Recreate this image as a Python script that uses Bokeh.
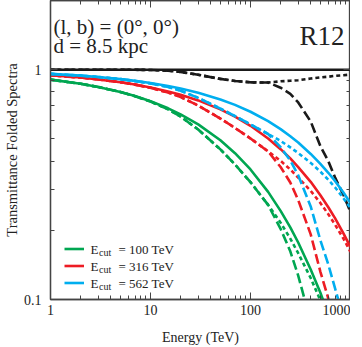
from bokeh.plotting import figure
from bokeh.models import (Range1d, FixedTicker, LogAxis, Legend, LegendItem, Label)
from bokeh.embed import file_html
from bokeh.resources import INLINE

# ---------------- data ----------------
energy = [1, 2, 3, 5, 7, 10, 15, 20, 30, 50, 70, 100, 150, 200, 250, 300, 400, 500, 600, 700, 850, 1000]

trans_flat_e = [1, 1000]
trans_flat = [1.0, 1.0]
trans_dashed = [1.0, 1.0, 1.0, 1.0, 0.999, 0.997, 0.99, 0.978, 0.95, 0.912, 0.893, 0.881, 0.879,
                0.835, 0.785, 0.72, 0.595, 0.465, 0.40, 0.34, 0.285, 0.24]
trans_dotted = [1.0, 1.0, 1.0, 1.0, 0.999, 0.997, 0.99, 0.978, 0.95, 0.912, 0.893, 0.881, 0.879,
                0.89, 0.895, 0.90, 0.915, 0.925, 0.932, 0.94, 0.946, 0.952]

green_solid = [0.905, 0.868, 0.841, 0.800, 0.768, 0.729, 0.679, 0.639, 0.578, 0.493, 0.433, 0.368, 0.294,
               0.243, 0.206, 0.177, 0.135, 0.107, 0.086, 0.071, 0.054, 0.042]
green_dashed = [0.905, 0.868, 0.841, 0.800, 0.767, 0.727, 0.672, 0.625, 0.549, 0.450, 0.387, 0.324, 0.258,
                0.203, 0.162, 0.127, 0.080, 0.050, 0.034, 0.024, 0.015, 0.010]
green_dotted = [0.905, 0.868, 0.841, 0.800, 0.767, 0.727, 0.672, 0.625, 0.549, 0.450, 0.387, 0.324, 0.258,
                0.216, 0.184, 0.159, 0.124, 0.099, 0.080, 0.067, 0.051, 0.040]

red_solid = [0.945, 0.924, 0.907, 0.882, 0.862, 0.837, 0.804, 0.778, 0.735, 0.672, 0.625, 0.570, 0.502,
             0.451, 0.411, 0.377, 0.325, 0.284, 0.252, 0.226, 0.194, 0.169]
red_dashed = [0.945, 0.924, 0.907, 0.882, 0.861, 0.834, 0.796, 0.761, 0.698, 0.613, 0.558, 0.502, 0.441,
              0.377, 0.323, 0.271, 0.192, 0.132, 0.101, 0.077, 0.055, 0.041]
red_dotted = [0.945, 0.924, 0.907, 0.882, 0.861, 0.834, 0.796, 0.761, 0.698, 0.613, 0.558, 0.502, 0.441,
              0.401, 0.368, 0.339, 0.297, 0.263, 0.235, 0.212, 0.184, 0.161]

blue_solid = [0.959, 0.942, 0.930, 0.910, 0.894, 0.875, 0.849, 0.828, 0.794, 0.742, 0.703, 0.656, 0.597,
              0.551, 0.513, 0.482, 0.430, 0.389, 0.356, 0.328, 0.292, 0.263]
blue_dashed = [0.959, 0.942, 0.930, 0.910, 0.893, 0.872, 0.841, 0.810, 0.754, 0.677, 0.628, 0.578, 0.525,
               0.460, 0.403, 0.347, 0.254, 0.181, 0.142, 0.112, 0.083, 0.063]
blue_dotted = [0.959, 0.942, 0.930, 0.910, 0.893, 0.872, 0.841, 0.810, 0.754, 0.677, 0.628, 0.578, 0.525,
               0.490, 0.459, 0.434, 0.393, 0.360, 0.332, 0.308, 0.276, 0.250]

legend_cuts = ["100", "316", "562"]
x_ticks = [1, 10, 100, 1000]
x_tick_labels = ["1", "10", "100", "1000"]
y_ticks = [0.1, 1]
y_tick_labels = ["0.1", "1"]

# ---------------- style ----------------
FONT = "Liberation Serif"
GREEN = "#00A651"
RED = "#ED1C24"
BLUE = "#00AEEF"
BLACK = "#1a1a1a"
LW = 2.6
DASH = "10 4"
DOT = "4 3"

# page pixel -> data helpers (frame: left 49, bottom 300 page px; 100 px/decade x, 230 px/decade y)
def ex(px):
    return 10 ** ((px - 49) / 100.0)

def ty(py):
    return 10 ** ((300 - py) / 230.0 - 1)

p = figure(x_axis_type="log", y_axis_type="log",
           x_range=Range1d(1, 1000), y_range=Range1d(0.1, 2.0),
           frame_width=300, frame_height=299,
           min_border_left=41, min_border_right=0, min_border_top=0, min_border_bottom=44,
           output_backend="svg", toolbar_location=None)
p.outline_line_color = "#444444"
p.outline_line_width = 1.3
p.xgrid.visible = False
p.ygrid.visible = False
p.background_fill_color = "white"

xt = FixedTicker(ticks=x_ticks, minor_ticks=[m * d for d in [1, 10, 100] for m in range(2, 10)])
yt = FixedTicker(ticks=y_ticks, minor_ticks=[0.2, 0.3, 0.4, 0.5, 0.6, 0.7, 0.8, 0.9])

def style_axis(ax):
    ax.axis_line_color = "#444444"
    ax.axis_line_width = 1.3
    ax.major_tick_line_color = "#444444"
    ax.minor_tick_line_color = "#444444"
    ax.major_tick_in = 7
    ax.major_tick_out = 0
    ax.minor_tick_in = 4
    ax.minor_tick_out = 0
    ax.major_label_text_font = FONT
    ax.major_label_text_font_size = "14px"
    ax.major_label_text_color = "#222222"
    ax.axis_label_text_font = FONT
    ax.axis_label_text_font_style = "normal"
    ax.axis_label_text_color = "#222222"

xa = p.xaxis[0]
xa.ticker = xt
xa.major_label_overrides = {t: l for t, l in zip(x_ticks, x_tick_labels)}
style_axis(xa)
xa.major_label_standoff = 5
xa.axis_label = "Energy (TeV)"
xa.axis_label_text_font_size = "14px"
xa.axis_label_standoff = 12

ya = p.yaxis[0]
ya.ticker = yt
ya.major_label_overrides = {t: l for t, l in zip(y_ticks, y_tick_labels)}
style_axis(ya)
ya.major_label_standoff = 9
ya.axis_label = "Transmittance Folded Spectra"
ya.axis_label_text_font_size = "14.5px"
ya.axis_label_standoff = 1

top = LogAxis(ticker=FixedTicker(ticks=x_ticks, minor_ticks=xt.minor_ticks))
style_axis(top)
top.major_label_text_alpha = 0
top.major_label_text_font_size = "2px"
top.major_label_standoff = 0
p.add_layout(top, "above")
right = LogAxis(ticker=FixedTicker(ticks=y_ticks, minor_ticks=yt.minor_ticks))
style_axis(right)
right.major_label_text_alpha = 0
right.major_label_text_font_size = "2px"
right.major_label_standoff = 0
p.add_layout(right, "right")

# ---------------- curves ----------------
p.line(trans_flat_e, trans_flat, color=BLACK, line_width=LW)
p.line(energy, trans_dotted, color=BLACK, line_width=LW, line_dash=DOT)
p.line(energy, trans_dashed, color=BLACK, line_width=LW, line_dash=DASH)

rs = []
for col, s, d, o in [(GREEN, green_solid, green_dashed, green_dotted),
                     (RED, red_solid, red_dashed, red_dotted),
                     (BLUE, blue_solid, blue_dashed, blue_dotted)]:
    r = p.line(energy, s, color=col, line_width=LW)
    p.line(energy, d, color=col, line_width=LW, line_dash=DASH)
    p.line(energy, o, color=col, line_width=LW, line_dash=DOT)
    rs.append(r)

# ---------------- legend ----------------
legend = Legend(items=[LegendItem(label=" ", renderers=[r]) for r in rs],
                location=(14, 8), orientation="vertical",
                glyph_width=20, glyph_height=17, label_height=17, label_width=2,
                label_standoff=0, spacing=0, padding=0, margin=0,
                border_line_alpha=0, background_fill_alpha=0,
                label_text_font_size="6px")
p.add_layout(legend, "center")

row_y = [249.5, 266.5, 283.5]
for cut, py in zip(legend_cuts, row_y):
    p.add_layout(Label(x=ex(89), y=ty(py), text="E", text_font=FONT, text_font_size="13px",
                       text_baseline="middle", text_color="#222222"))
    p.add_layout(Label(x=ex(97.5), y=ty(py + 3), text="cut", text_font=FONT, text_font_size="10px",
                       text_baseline="middle", text_color="#222222"))
    p.add_layout(Label(x=ex(117), y=ty(py), text="= " + cut + " TeV", text_font=FONT,
                       text_font_size="13px", text_baseline="middle", text_color="#222222"))

# ---------------- annotations ----------------
p.add_layout(Label(x=ex(52), y=ty(27), text="(l, b) = (0°, 0°)", text_font=FONT, text_font_size="21px",
                   text_baseline="middle", text_color="#222222"))
p.add_layout(Label(x=ex(52), y=ty(46), text="d = 8.5 kpc", text_font=FONT, text_font_size="21px",
                   text_baseline="middle", text_color="#222222"))
p.add_layout(Label(x=ex(343), y=ty(36), text="R12", text_font=FONT, text_font_size="27px",
                   text_align="right", text_baseline="middle", text_color="#222222"))

open("out.html", "w").write(file_html(p, INLINE))
